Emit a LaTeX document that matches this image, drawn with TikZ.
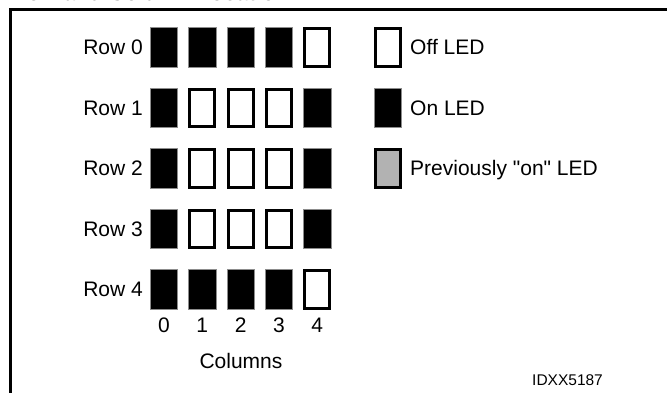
\documentclass[tikz,border=0pt]{standalone}
\usepackage{fontspec}
\setmainfont{Liberation Sans}
\newfontfamily\plainfont{Liberation Sans}
\begin{document}
\begin{tikzpicture}[x=1pt,y=-1pt,
  ledon/.style={draw=black!45,line width=0.6pt,fill=black,minimum width=27.4pt,minimum height=39.9pt,inner sep=0pt,anchor=center},
  ledoff/.style={draw=black,line width=3pt,fill=white,minimum width=25pt,minimum height=37.5pt,inner sep=0pt,anchor=center},
  ledprev/.style={draw=black,line width=3pt,fill=black!30,minimum width=25pt,minimum height=37.5pt,inner sep=0pt,anchor=center},
  lbl/.style={font=\fontsize{21}{25}\selectfont\plainfont,inner sep=0pt},
  small/.style={font=\fontsize{15.5}{18}\selectfont,inner sep=0pt}]
\useasboundingbox (0,0) rectangle (667,392);
\node[anchor=base west,inner sep=0pt,font=\fontsize{22}{26}\selectfont\bfseries] (title) at (11,0.8) {Row and Column Location};
\draw[line width=2.7pt] (10.7,9.5) rectangle (720,440);
% LED grid
\foreach \j/\pat in {0/{1,1,1,1,0},1/{1,0,0,0,1},2/{1,0,0,0,1},3/{1,0,0,0,1},4/{1,1,1,1,0}}{
  \pgfmathsetmacro{\yc}{27+60.5*\j+20.25}
  \node[lbl,anchor=base east] (row\j) at (143,\yc+7.6) {Row \j};
  \foreach \v [count=\i from 0] in \pat {
    \pgfmathsetmacro{\xc}{150+38.3*\i+14}
    \ifnum\v=1
      \node[ledon] (l\j\i) at (\xc,\yc) {};
    \else
      \node[ledoff] (l\j\i) at (\xc,\yc) {};
    \fi
  }
}
% column numbers
\foreach \i in {0,...,4}{
  \pgfmathsetmacro{\xc}{150+38.3*\i+14}
  \node[lbl,anchor=base] (c\i) at (\xc,332) {\i};
}
\node[lbl,anchor=base] (columns) at (241,368) {Columns};
% legend
\node[ledoff] (legoff) at (387.5,47.25) {};
\node[ledon] (legon) at (387.5,107.75) {};
\node[ledprev] (legprev) at (387.5,168.25) {};
\node[lbl,anchor=base west] (toff) at (410,47.25+7.6) {Off LED};
\node[lbl,anchor=base west] (ton) at (410,107.75+7.6) {On LED};
\node[lbl,anchor=base west] (tprev) at (410,168.25+7.6) {Previously "on" LED};
\node[small,anchor=base west] (id) at (532,385) {IDXX5187};
\end{tikzpicture}
\end{document}
